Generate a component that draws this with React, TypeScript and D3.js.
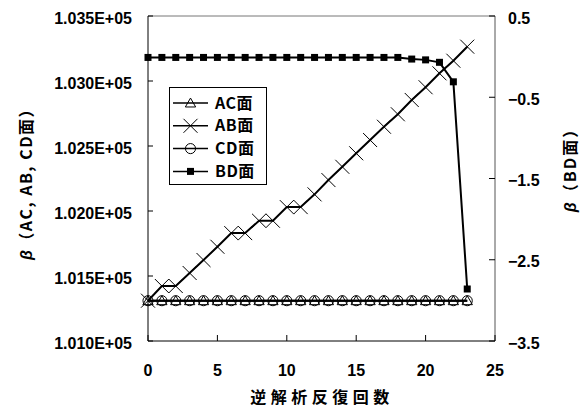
import React from "react";
import * as d3 from "d3";

// iterations 0..23
const iterations = d3.range(0, 24);
const acValues = iterations.map(() => 101310);
const cdValues = iterations.map(() => 101310);
const abValues = [
  101310, 101423, 101423, 101523, 101623, 101725, 101830, 101830, 101925, 101925,
  102030, 102030, 102128, 102238, 102340, 102444, 102546, 102648, 102744, 102854,
  102952, 103059, 103156, 103264,
];
const bdValues = [
  -0.01, -0.01, -0.01, -0.01, -0.01, -0.01, -0.01, -0.01, -0.01, -0.01,
  -0.01, -0.01, -0.01, -0.01, -0.01, -0.01, -0.01, -0.01, -0.01, -0.03,
  -0.04, -0.07, -0.31, -2.86,
];
const xTicks = [0, 5, 10, 15, 20, 25];
const leftTicks = [101000, 101500, 102000, 102500, 103000, 103500];
const rightTicks = [0.5, -0.5, -1.5, -2.5, -3.5];
const legendLabels = ["AC面", "AB面", "CD面", "BD面"];

const W = 583;
const H = 410;
const plot = { left: 148, right: 495, top: 16, bottom: 341 };
const font = "'Liberation Sans', Arial, sans-serif";
const cjk = "'Noto Sans CJK JP', 'Liberation Sans', sans-serif";

function fmtLeft(v: number) {
  return (v / 1e5).toFixed(3) + "E+05";
}
function fmtRight(v: number) {
  return v < 0 ? "\u2212" + Math.abs(v).toFixed(1) : v.toFixed(1);
}

const triPath = d3.symbol(d3.symbolTriangle, 46)()!;
const circPath = d3.symbol(d3.symbolCircle, 80)()!;

function Marker({ kind, x, y }: { kind: string; x: number; y: number }) {
  if (kind === "tri")
    return <path d={triPath} transform={`translate(${x},${y + 1})`} fill="none" stroke="#000" strokeWidth={1} />;
  if (kind === "circ")
    return <path d={circPath} transform={`translate(${x},${y})`} fill="none" stroke="#000" strokeWidth={1} />;
  if (kind === "cross")
    return (
      <path
        d={`M${x - 7},${y - 7}L${x + 7},${y + 7}M${x - 7},${y + 7}L${x + 7},${y - 7}`}
        stroke="#000"
        strokeWidth={1}
      />
    );
  return <rect x={x - 3.5} y={y - 3.5} width={7} height={7} fill="#000" />;
}

export default function App() {
  const x = d3.scaleLinear().domain([0, 25]).range([plot.left, plot.right]);
  const yL = d3.scaleLinear().domain([101000, 103500]).range([plot.bottom, plot.top]);
  const yR = d3.scaleLinear().domain([-3.5, 0.5]).range([plot.bottom, plot.top]);

  const lineL = d3
    .line<number>()
    .x((_, i) => x(iterations[i]))
    .y((d) => yL(d));
  const lineR = d3
    .line<number>()
    .x((_, i) => x(iterations[i]))
    .y((d) => yR(d));

  const series = [
    { vals: acValues, path: lineL, scale: yL, kind: "tri" },
    { vals: abValues, path: lineL, scale: yL, kind: "cross" },
    { vals: cdValues, path: lineL, scale: yL, kind: "circ" },
    { vals: bdValues, path: lineR, scale: yR, kind: "sq" },
  ];
  const legendKinds = ["tri", "cross", "circ", "sq"];

  return (
    <svg width={W} height={H} style={{ position: "absolute", left: 0, top: 0, background: "#fff" }}>
      <rect width={W} height={H} fill="#fff" />
      {/* frame */}
      <line x1={plot.left} x2={plot.right} y1={plot.top} y2={plot.top} stroke="#777" />
      <line x1={plot.right} x2={plot.right} y1={plot.top} y2={plot.bottom} stroke="#555" />
      <line x1={plot.left} x2={plot.left} y1={plot.top} y2={plot.bottom} stroke="#000" />
      <line x1={plot.left} x2={plot.right} y1={plot.bottom} y2={plot.bottom} stroke="#000" />

      {/* left ticks */}
      {leftTicks.map((t) => (
        <g key={"l" + t}>
          <line x1={plot.left} x2={plot.left + 5} y1={yL(t)} y2={yL(t)} stroke="#000" />
          <text x={132} y={yL(t) + 2} dy="0.35em" textAnchor="end" fontFamily={font} fontWeight="bold" fontSize={16}>
            {fmtLeft(t)}
          </text>
        </g>
      ))}
      {/* right ticks */}
      {rightTicks.map((t) => (
        <g key={"r" + t}>
          <line x1={plot.right - 6} x2={plot.right} y1={yR(t)} y2={yR(t)} stroke="#000" />
          <text x={508} y={yR(t) + 2} dy="0.35em" textAnchor="start" fontFamily={font} fontWeight="bold" fontSize={16}>
            {fmtRight(t)}
          </text>
        </g>
      ))}
      {/* x ticks */}
      {xTicks.map((t) => (
        <g key={"x" + t}>
          <line x1={x(t)} x2={x(t)} y1={plot.bottom} y2={plot.bottom - 6} stroke="#000" />
          <text x={x(t)} y={370} dy="0.35em" textAnchor="middle" fontFamily={font} fontWeight="bold" fontSize={16}>
            {t}
          </text>
        </g>
      ))}

      {/* titles */}
      <text x={322} y={397} dy="0.35em" textAnchor="middle" fontFamily={cjk} fontWeight="bold" fontSize={16} letterSpacing={4.5}>
        逆解析反復回数
      </text>
      <text
        transform="translate(26,180) rotate(-90)"
        dy="0.35em"
        textAnchor="middle"
        fontFamily={cjk}
        fontWeight="bold"
        fontSize={16}
        letterSpacing={1.5}
      >
        <tspan fontStyle="italic" fontFamily={font}>β</tspan>（AC, AB, CD面）
      </text>
      <text
        transform="translate(570,166) rotate(-90)"
        dy="0.35em"
        textAnchor="middle"
        fontFamily={cjk}
        fontWeight="bold"
        fontSize={16}
        letterSpacing={2}
      >
        <tspan fontStyle="italic" fontFamily={font}>β</tspan>（BD面）
      </text>

      {/* series */}
      {series.map((s, si) => (
        <g key={"s" + si}>
          <path d={s.path(s.vals)!} fill="none" stroke="#000" strokeWidth={2} />
          {s.vals.map((v, i) => (
            <Marker key={i} kind={s.kind} x={x(iterations[i])} y={s.scale(v)} />
          ))}
        </g>
      ))}

      {/* legend */}
      <rect x={169.5} y={87.5} width={97} height={97} fill="#fff" stroke="#000" />
      {legendLabels.map((lab, i) => {
        const ly = 103 + i * 22.8;
        return (
          <g key={lab}>
            <line x1={173} x2={208} y1={ly} y2={ly} stroke="#000" strokeWidth={1.5} />
            <Marker kind={legendKinds[i]} x={190.5} y={ly} />
            <text x={215} y={ly} dy="0.35em" fontFamily={cjk} fontWeight="bold" fontSize={16} letterSpacing={0.5}>
              {lab}
            </text>
          </g>
        );
      })}
    </svg>
  );
}
